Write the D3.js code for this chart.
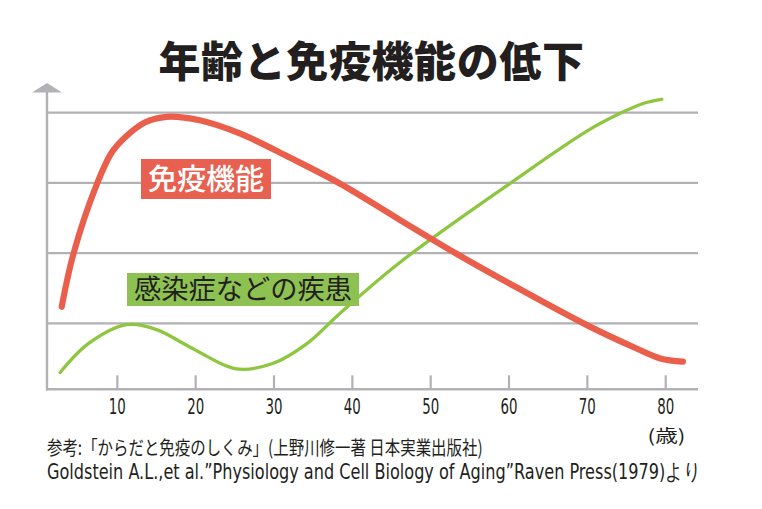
<!DOCTYPE html>
<html><head><meta charset="utf-8">
<script src="https://cdn.jsdelivr.net/npm/d3@7"></script>
<style>
html,body{margin:0;padding:0;background:#fff;}
svg{display:block;}
</style></head>
<body>
<svg id="chart" width="762" height="509"></svg>
<script>
const title = "年齢と免疫機能の低下";
const xTicks = [10, 20, 30, 40, 50, 60, 70, 80];
const xUnit = "(歳)";
const gridValues = [1, 2, 3, 4];
const immuneLabel = "免疫機能";
const diseaseLabel = "感染症などの疾患";
const sourceLine1 = "参考:「からだと免疫のしくみ」(上野川修一著 日本実業出版社)";
const sourceLine2 = "Goldstein A.L.,et al.\u201DPhysiology and Cell Biology of Aging\u201DRaven Press(1979)より";

const immuneAges   = [2.9, 4.4, 7.4, 9.3, 11.0, 13.5, 16.3, 20.5, 25.7, 32.0, 38.4, 46.1, 53.3, 60.0, 70.0, 76.0, 79.3, 82.2];
const immuneValues = [1.235, 1.99, 2.985, 3.435, 3.65, 3.86, 3.94, 3.89, 3.70, 3.36, 2.99, 2.47, 1.99, 1.57, 0.97, 0.655, 0.50, 0.455];

const diseaseAges   = [2.7, 6.3, 11.2, 15.0, 19.3, 25.2, 29.9, 34.2, 38.4, 46.1, 60.1, 70.0, 74.4, 77.4, 79.5];
const diseaseValues = [0.30, 0.71, 0.98, 0.91, 0.66, 0.35, 0.43, 0.71, 1.14, 1.87, 2.99, 3.74, 4.00, 4.14, 4.19];

const svg = d3.select("#chart");
const x = d3.scaleLinear().domain([0, 80]).range([39, 665.7]);
const y = d3.scaleLinear().domain([0, 4]).range([393.5, 112.6]);
const axisX0 = 47, axisX1 = 698, axisY = 389.3;
const gray = "#b2b2b6";
const narrow = "'Liberation Sans Narrow','DejaVu Sans Condensed','Roboto Condensed',sans-serif";
const cjk = "'Noto Sans CJK JP','Noto Sans CJK SC',sans-serif";

function fitWidth(sel, x0, width) {
  sel.each(function () {
    const w = this.getComputedTextLength();
    if (w > 0) {
      const s = width / w;
      d3.select(this).attr("transform", `translate(${x0},0) scale(${s},1) translate(${-x0},0)`);
    }
  });
}

// title
svg.append("text").attr("x", 371.5).attr("y", 77).attr("text-anchor", "middle")
  .attr("font-family", cjk).attr("font-weight", 900).attr("font-size", 42)
  .attr("letter-spacing", 0.6).attr("fill", "#231f20").text(title);

// grid lines
svg.append("g").selectAll("line").data(gridValues).join("line")
  .attr("x1", axisX0).attr("x2", axisX1)
  .attr("y1", d => y(d)).attr("y2", d => y(d))
  .attr("stroke", gray).attr("stroke-width", 2.2);

// x axis line
svg.append("line").attr("x1", axisX0 - 1).attr("x2", axisX1).attr("y1", axisY).attr("y2", axisY)
  .attr("stroke", gray).attr("stroke-width", 2.4);
// y axis line + arrow
svg.append("line").attr("x1", axisX0).attr("x2", axisX0).attr("y1", 91).attr("y2", axisY + 1.2)
  .attr("stroke", gray).attr("stroke-width", 2.4);
svg.append("path").attr("d", `M${axisX0 - 15},92.5 L${axisX0},83 L${axisX0 + 15},92.5 Z`).attr("fill", gray);

// ticks
const tickG = svg.append("g").selectAll("g").data(xTicks).join("g");
tickG.append("line").attr("x1", d => x(d)).attr("x2", d => x(d))
  .attr("y1", axisY - 14).attr("y2", axisY).attr("stroke", gray).attr("stroke-width", 2.2);
tickG.append("text").attr("x", d => x(d)).attr("y", 414).attr("text-anchor", "middle")
  .attr("font-family", narrow).attr("font-size", 21.5)
  .attr("fill", "#231f20").text(d => d)
  .each(function (d) { fitWidth(d3.select(this), x(d), 17); });
const unitT = svg.append("text").attr("x", 666.5).attr("y", 442).attr("text-anchor", "middle")
  .attr("font-family", cjk).attr("font-size", 17.5).attr("fill", "#231f20").text(xUnit);
fitWidth(unitT, 666.5, 38);

// lines
const line = d3.line().x(d => x(d[0])).y(d => y(d[1])).curve(d3.curveCatmullRom.alpha(0.5));
svg.append("path").datum(d3.zip(diseaseAges, diseaseValues)).attr("d", line)
  .attr("fill", "none").attr("stroke", "#8dc63f").attr("stroke-width", 3.3).attr("stroke-linecap", "round");
svg.append("path").datum(d3.zip(immuneAges, immuneValues)).attr("d", line)
  .attr("fill", "none").attr("stroke", "#e95f4c").attr("stroke-width", 6.2).attr("stroke-linecap", "round");

// labels
svg.append("rect").attr("x", 141).attr("y", 159).attr("width", 130).attr("height", 40).attr("fill", "#e8604f");
svg.append("text").attr("x", 206).attr("y", 190).attr("text-anchor", "middle")
  .attr("font-family", cjk).attr("font-weight", 500).attr("font-size", 29)
  .attr("fill", "#ffffff").text(immuneLabel);
svg.append("rect").attr("x", 127).attr("y", 273).attr("width", 232).attr("height", 33).attr("fill", "#8dc152");
const dl = svg.append("text").attr("x", 134).attr("y", 299.5)
  .attr("font-family", cjk).attr("font-weight", 400).attr("font-size", 27)
  .attr("fill", "#231f20").text(diseaseLabel);
fitWidth(dl, 134, 218);

// sources
const s1 = svg.append("text").attr("x", 47).attr("y", 455).attr("font-family", cjk).attr("font-size", 19.5)
  .attr("fill", "#231f20").text(sourceLine1);
fitWidth(s1, 47, 436);
const s2 = svg.append("text").attr("x", 47).attr("y", 479).attr("font-family", narrow).attr("font-size", 22)
  .attr("fill", "#231f20").text(sourceLine2);
fitWidth(s2, 47, 656);
</script>
</body></html>
